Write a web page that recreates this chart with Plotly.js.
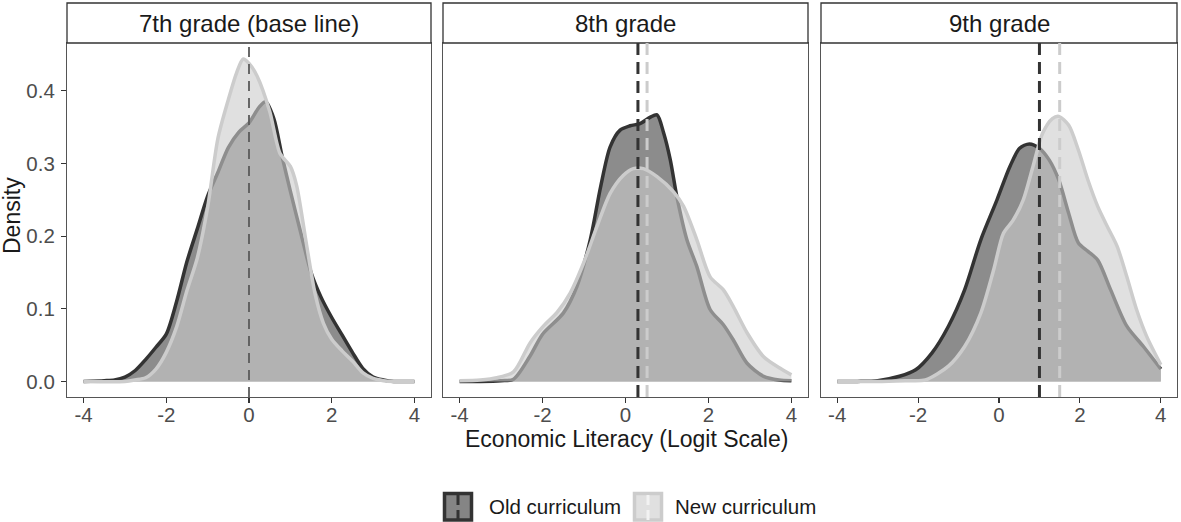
<!DOCTYPE html>
<html>
<head>
<meta charset="utf-8">
<script src="https://cdn.plot.ly/plotly-3.0.1.min.js"></script>
<style>html,body{margin:0;padding:0;background:#fff;}#chart{width:1181px;height:522px;}</style>
</head>
<body>
<div id="chart"></div>
<script>
// ---- data ----
const panels = ["7th grade (base line)", "8th grade", "9th grade"];
const seriesNames = ["Old curriculum", "New curriculum"];
const xTicks = [-4, -2, 0, 2, 4];
const xTickText = ["-4", "-2", "0", "2", "4"];
const yTicks = [0, 0.1, 0.2, 0.3, 0.4];
const yTickText = ["0.0", "0.1", "0.2", "0.3", "0.4"];

// 7th grade
const g7OldX = [-4,-3.5,-3.25,-3,-2.75,-2.5,-2.25,-2,-1.75,-1.5,-1.25,-1,-0.75,-0.5,-0.25,0,0.25,0.4,0.6,0.8,1,1.25,1.5,1.75,2,2.25,2.5,2.75,3,3.25,3.5,4];
const g7OldY = [0,0.001,0.002,0.006,0.015,0.03,0.047,0.065,0.11,0.165,0.21,0.255,0.288,0.322,0.343,0.356,0.378,0.385,0.362,0.31,0.262,0.205,0.15,0.115,0.088,0.064,0.04,0.018,0.006,0.002,0,0];
const g7NewX = [-4,-3,-2.75,-2.5,-2.25,-2,-1.75,-1.5,-1.25,-1,-0.75,-0.5,-0.3,-0.14,0,0.2,0.5,0.75,1,1.15,1.4,1.6,1.8,2,2.25,2.5,2.75,3,3.25,3.5,4];
const g7NewY = [0,0,0.002,0.005,0.017,0.04,0.075,0.125,0.17,0.24,0.335,0.388,0.425,0.444,0.438,0.42,0.372,0.314,0.296,0.27,0.185,0.12,0.08,0.058,0.042,0.028,0.012,0.004,0.001,0,0];
// 8th grade
const g8OldX = [-4,-3.5,-3,-2.7,-2.3,-2,-1.5,-1.17,-0.85,-0.6,-0.37,-0.13,0.11,0.35,0.6,0.76,0.92,1.08,1.24,1.48,1.72,2.04,2.36,2.6,2.93,3.33,3.7,4];
const g8OldY = [0,0,0.001,0.003,0.035,0.065,0.094,0.131,0.195,0.268,0.323,0.346,0.352,0.355,0.364,0.367,0.342,0.305,0.254,0.195,0.158,0.099,0.078,0.057,0.025,0.007,0.002,0.001];
const g8NewX = [-4,-3.5,-3.1,-2.7,-2.3,-1.98,-1.65,-1.33,-1.01,-0.69,-0.37,-0.05,0.19,0.43,0.76,1.16,1.4,1.72,2.04,2.36,2.6,2.93,3.33,3.73,4];
const g8NewY = [0.001,0.002,0.005,0.013,0.053,0.076,0.095,0.122,0.163,0.213,0.259,0.284,0.293,0.293,0.282,0.261,0.241,0.195,0.144,0.126,0.103,0.067,0.034,0.018,0.009];
// 9th grade
const g9OldX = [-4,-3.5,-3,-2.46,-2.06,-1.66,-1.25,-0.85,-0.45,-0.05,0.27,0.51,0.75,1.0,1.24,1.48,1.72,1.96,2.2,2.44,2.76,3.16,3.57,4];
const g9OldY = [0,0,0.001,0.007,0.016,0.039,0.076,0.126,0.195,0.25,0.296,0.321,0.327,0.321,0.305,0.277,0.232,0.191,0.179,0.167,0.126,0.076,0.048,0.017];
const g9NewX = [-4,-3,-2.3,-1.82,-1.25,-0.85,-0.45,-0.13,0.11,0.35,0.6,0.84,1.08,1.32,1.48,1.72,1.96,2.2,2.44,2.68,2.92,3.16,3.4,3.65,4];
const g9NewY = [0,0,0.001,0.002,0.021,0.048,0.094,0.154,0.204,0.222,0.25,0.296,0.342,0.362,0.365,0.353,0.319,0.277,0.241,0.213,0.186,0.144,0.099,0.062,0.023];

// reference lines (means)
const baseLine7 = [0];
const means8 = [0.3, 0.52];   // old, new
const means9 = [1.0, 1.5];    // old, new

// ---- styling ----
const FONT = "Liberation Sans, Arial, Helvetica, sans-serif";
const oldLine = "#333333", newLine = "#cccccc";
const oldFill = "rgba(63,63,63,0.6)", newFill = "rgba(203,203,203,0.6)";

const curves = [
  [[g7OldX, g7OldY], [g7NewX, g7NewY]],
  [[g8OldX, g8OldY], [g8NewX, g8NewY]],
  [[g9OldX, g9OldY], [g9NewX, g9NewY]]
];
const axSuffix = ["", "2", "3"];
const traces = [];
curves.forEach((pair, p) => {
  pair.forEach((xy, s) => {
    traces.push({
      type: "scatter", mode: "lines",
      x: xy[0], y: xy[1],
      xaxis: "x" + axSuffix[p], yaxis: "y" + axSuffix[p],
      name: seriesNames[s], showlegend: false, hoverinfo: "skip",
      fill: "tozeroy",
      fillcolor: s === 0 ? oldFill : newFill,
      line: {color: s === 0 ? oldLine : newLine, width: 3.5, shape: "spline", smoothing: 0.8}
    });
  });
});

// geometry
const L = 67, R = 4, T = 43, B = 125, W = 1181, H = 522;
const pw = W - L - R, ph = H - T - B;
const doms = [[0, 364 / pw], [376 / pw, 741 / pw], [754 / pw, 1]];
const xr = [-4.4, 4.4], yr = [-0.0215, 0.466];

function xax(dom, anchor) {
  return {domain: dom, range: xr, anchor: anchor, tickvals: xTicks, ticktext: xTickText,
    ticks: "outside", ticklen: 5, tickwidth: 1.1, tickcolor: "#333",
    ticklabelstandoff: -6,
    tickfont: {family: FONT, size: 20.5, color: "#4d4d4d"},
    showgrid: false, zeroline: false, showline: true, mirror: true, linecolor: "#555", linewidth: 1.1,
    fixedrange: true};
}
function yax(anchor, labels) {
  return {domain: [0, 1], range: yr, anchor: anchor, tickvals: yTicks, ticktext: yTickText,
    ticks: labels ? "outside" : "", ticklen: 5, tickwidth: 1.1, tickcolor: "#333",
    showticklabels: labels, ticklabelstandoff: 2,
    tickfont: {family: FONT, size: 20.5, color: "#4d4d4d"},
    showgrid: false, zeroline: false, showline: true, mirror: true, linecolor: "#555", linewidth: 1.1,
    fixedrange: true};
}

const shapes = [];
const annotations = [];
// strips
doms.forEach((d, i) => {
  shapes.push({type: "rect", xref: "paper", yref: "paper", x0: d[0], x1: d[1], y0: 1, y1: (ph + 40) / ph,
    line: {color: "#333", width: 1.3}, fillcolor: "#ffffff", layer: "above"});
  annotations.push({xref: "paper", yref: "paper", x: (d[0] + d[1]) / 2, y: 1 + 20 / ph,
    xanchor: "center", yanchor: "middle", showarrow: false, text: panels[i],
    font: {family: FONT, size: 24, color: "#1a1a1a"}});
});
// mean lines
function vline(xv, ax, color, width, dash) {
  shapes.push({type: "line", xref: "x" + ax, yref: "y" + ax + " domain", x0: xv, x1: xv, y0: 0, y1: 1,
    line: {color: color, width: width, dash: dash}, layer: "above"});
}
baseLine7.forEach(v => vline(v, "", "#5a5a5a", 1.8, "10px,7px"));
vline(means8[0], "2", oldLine, 3, "12px,7px");
vline(means8[1], "2", newLine, 3, "12px,7px");
vline(means9[0], "3", oldLine, 3, "12px,7px");
vline(means9[1], "3", newLine, 3, "12px,7px");

// axis titles
annotations.push({xref: "paper", yref: "paper", x: (626.7 - L) / pw, y: (T + ph - 439) / ph,
  xanchor: "center", yanchor: "middle", showarrow: false, text: "Economic Literacy (Logit Scale)",
  font: {family: FONT, size: 23, color: "#1a1a1a"}});
annotations.push({xref: "paper", yref: "paper", x: (12 - L) / pw, y: (T + ph - 216) / ph,
  xanchor: "center", yanchor: "middle", showarrow: false, text: "Density", textangle: -90,
  font: {family: FONT, size: 23, color: "#1a1a1a"}});

// legend (drawn manually to match square keys)
function px2x(px) { return (px - L) / pw; }
function py2y(py) { return (T + ph - py) / ph; }
const legendKeys = [
  {x: 443, fill: "#858585", border: "#333333", mid: "#333333", textX: 487},
  {x: 633, fill: "#e0e0e0", border: "#cccccc", mid: "#f2f2f2", textX: 673}
];
legendKeys.forEach((k, i) => {
  shapes.push({type: "rect", xref: "paper", yref: "paper", x0: px2x(k.x + 1.5), x1: px2x(k.x + 28.5),
    y0: py2y(520), y1: py2y(493.5), line: {color: k.border, width: 3.5}, fillcolor: k.fill});
  shapes.push({type: "line", xref: "paper", yref: "paper", x0: px2x(k.x + 15), x1: px2x(k.x + 15),
    y0: py2y(520), y1: py2y(493.5), line: {color: k.mid, width: 3, dash: "10px,5px"}});
  annotations.push({xref: "paper", yref: "paper", x: px2x(k.textX), y: py2y(507),
    xanchor: "left", yanchor: "middle", showarrow: false, text: seriesNames[i],
    font: {family: FONT, size: 20.5, color: "#1a1a1a"}});
});

const layout = {
  width: W, height: H,
  margin: {l: L, r: R, t: T, b: B},
  paper_bgcolor: "#ffffff", plot_bgcolor: "#ffffff",
  showlegend: false,
  xaxis: xax(doms[0], "y"), yaxis: yax("x", true),
  xaxis2: xax(doms[1], "y2"), yaxis2: yax("x2", false),
  xaxis3: xax(doms[2], "y3"), yaxis3: yax("x3", false),
  shapes: shapes, annotations: annotations
};

Plotly.newPlot("chart", traces, layout, {displayModeBar: false, staticPlot: true});
</script>
</body>
</html>
